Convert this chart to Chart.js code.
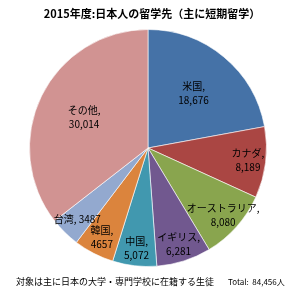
<!DOCTYPE html>
<html>
<head>
<meta charset="utf-8">
<script src="https://cdn.jsdelivr.net/npm/chart.js@4"></script>
<style>
  body { margin: 0; background: #fff; }
  canvas { display: block; }
</style>
</head>
<body>
<canvas id="pieChart" width="295" height="295"></canvas>
<script>
const countries = ['米国', 'カナダ', 'オーストラリア', 'イギリス', '中国', '韓国', '台湾', 'その他'];
const students = [18676, 8189, 8080, 6281, 5072, 4657, 3487, 30014];
const valueLabels = ['18,676', '8,189', '8,080', '6,281', '5,072', '4657', '3487', '30,014'];
const sliceColors = ['#4572A7', '#AA4643', '#89A54E', '#71588F', '#4198AF', '#DB843D', '#93A9CF', '#D19392'];

const jpFont = '"Noto Sans CJK JP", "Noto Sans", sans-serif';

// labels inside slices, Excel style
const sliceLabels = {
  id: 'sliceLabels',
  afterDatasetsDraw(chart) {
    const ctx = chart.ctx;
    const meta = chart.getDatasetMeta(0);
    ctx.save();
    ctx.fillStyle = '#000';
    ctx.font = '10px ' + jpFont;
    ctx.textAlign = 'center';
    ctx.textBaseline = 'middle';
    meta.data.forEach((arc, i) => {
      const mid = (arc.startAngle + arc.endAngle) / 2;
      const span = arc.endAngle - arc.startAngle;
      const frac = span > 1.2 ? 0.6 : 0.85;
      const r = arc.outerRadius * frac;
      const x = arc.x + Math.cos(mid) * r;
      const y = arc.y + Math.sin(mid) * r;
      if (countries[i] === '台湾') {
        ctx.fillText(countries[i] + ', ' + valueLabels[i], x, y);
      } else {
        ctx.fillText(countries[i] + ',', x, y - 7);
        ctx.fillText(valueLabels[i], x, y + 7);
      }
    });
    ctx.restore();
  }
};

// title and notes around the pie
const textBlocks = {
  id: 'textBlocks',
  afterDraw(chart) {
    const ctx = chart.ctx;
    ctx.save();
    ctx.fillStyle = '#000';
    ctx.textBaseline = 'middle';
    ctx.textAlign = 'center';
    ctx.font = 'bold 11px ' + jpFont;
    ctx.fillText('2015年度:日本人の留学先（主に短期留学）', 152, 14);
    ctx.textAlign = 'left';
    ctx.font = '9px ' + jpFont;
    ctx.fillText('対象は主に日本の大学・専門学校に在籍する生徒', 16, 282);
    ctx.font = '8px ' + jpFont;
    ctx.fillText('Total:  84,456人', 228, 282);
    ctx.restore();
  }
};

const ctx = document.getElementById('pieChart').getContext('2d');
const chart = new Chart(ctx, {
  type: 'pie',
  data: {
    labels: countries,
    datasets: [{
      data: students,
      backgroundColor: sliceColors,
      borderColor: 'rgba(255,255,255,0.6)',
      borderWidth: 1
    }]
  },
  options: {
    responsive: false,
    animation: false,
    layout: {
      padding: { top: 29, bottom: 28, left: 29, right: 28 }
    },
    plugins: {
      legend: { display: false },
      tooltip: { enabled: false },
      title: { display: false }
    }
  },
  plugins: [sliceLabels, textBlocks]
});
</script>
</body>
</html>
